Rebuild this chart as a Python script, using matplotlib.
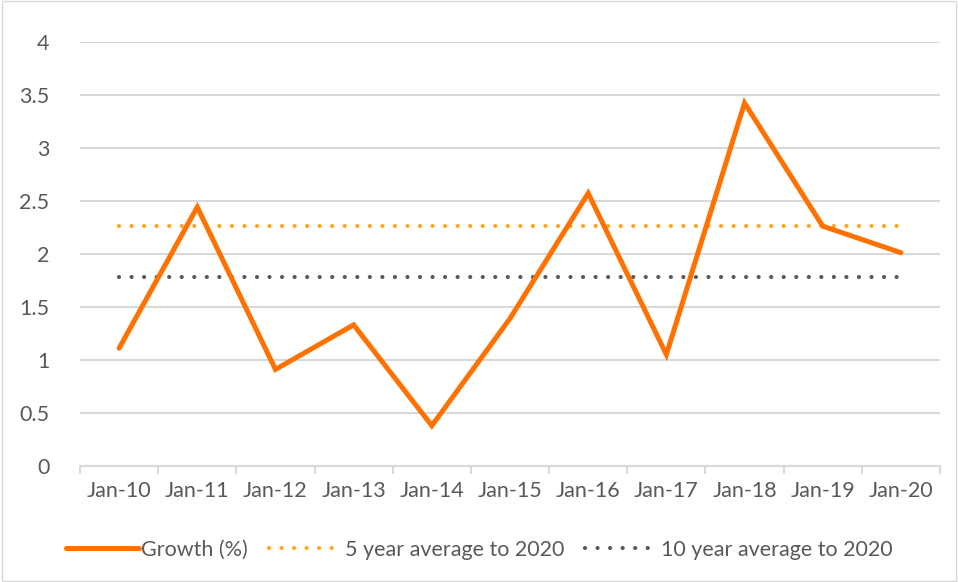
import matplotlib.pyplot as plt
import numpy as np

# datos
meses = ['Jan-10', 'Jan-11', 'Jan-12', 'Jan-13', 'Jan-14', 'Jan-15',
         'Jan-16', 'Jan-17', 'Jan-18', 'Jan-19', 'Jan-20']
crecimiento = [1.11, 2.44, 0.91, 1.33, 0.38, 1.39, 2.57, 1.05, 3.42, 2.26, 2.01]
media_5 = [2.26] * len(meses)
media_10 = [1.78] * len(meses)

plt.rcParams['font.family'] = ['Lato', 'DejaVu Sans']

fig = plt.figure(figsize=(9.58, 5.82), dpi=100)
ax = fig.add_axes([80 / 958, 1 - 466 / 582, 860 / 958, (466 - 41.5) / 582])

x = np.arange(len(meses))
ax.plot(x, crecimiento, color='#FF7100', lw=3.6, solid_joinstyle='miter',
        solid_capstyle='round', label='Growth (%)', zorder=3)
ax.plot(x, media_5, color='#FFA51F', lw=3.0, linestyle=(0, (0.01, 3.0)),
        dash_capstyle='round', label='5 year average to 2020', zorder=2)
ax.plot(x, media_10, color='#595959', lw=3.0, linestyle=(0, (0.01, 3.0)),
        dash_capstyle='round', label='10 year average to 2020', zorder=2)

ax.set_xlim(-0.5, len(meses) - 0.5)
ax.set_ylim(0, 4)
ax.set_yticks(np.arange(0, 4.01, 0.5))
ax.set_yticklabels(['0', '0.5', '1', '1.5', '2', '2.5', '3', '3.5', '4'])
ax.set_xticks(x)
ax.set_xticklabels(meses)
ax.set_xticks(np.arange(-0.5, len(meses), 1), minor=True)

ax.grid(axis='y', color='#D9D9D9', lw=1.5)
ax.set_axisbelow(True)
for lado in ['top', 'right', 'left']:
    ax.spines[lado].set_visible(False)
ax.spines['bottom'].set_color('#D9D9D9')
ax.spines['bottom'].set_linewidth(1.5)

ax.tick_params(axis='x', which='major', length=0, pad=11, labelsize=15.5, colors='#595959')
ax.tick_params(axis='x', which='minor', length=6, color='#D9D9D9', width=1.5)
ax.tick_params(axis='y', length=0, pad=22, labelsize=15.5, colors='#595959')

leg = fig.legend(loc='center', bbox_to_anchor=(0.5, 1 - 550 / 582), ncol=3,
                 frameon=False, fontsize=15.5, handlelength=3.4,
                 handletextpad=0.1, columnspacing=1.0)
for t in leg.get_texts():
    t.set_color('#595959')

# marco exterior del grafico
fig.patches.append(plt.Rectangle((0.002, 0.002), 0.996, 0.996, transform=fig.transFigure,
                                 fill=False, edgecolor='#D9D9D9', lw=1))

plt.savefig('out.png', dpi=100)
